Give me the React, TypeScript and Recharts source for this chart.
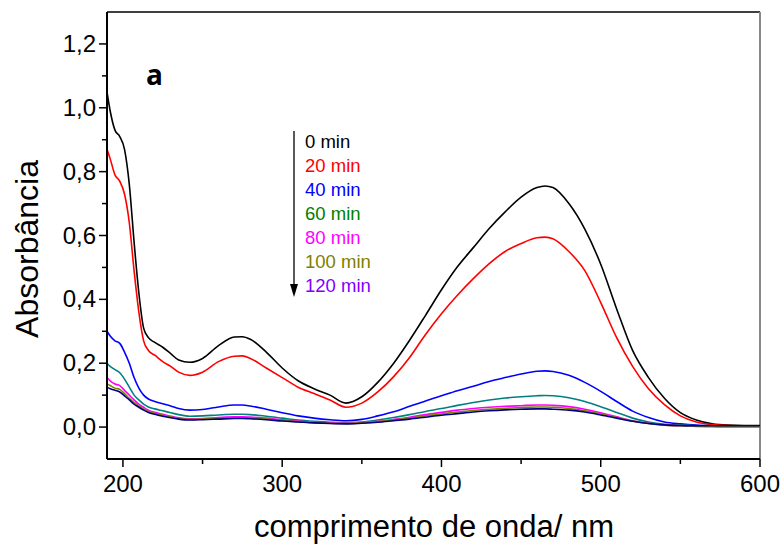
import React from "react"
import { LineChart, Line, XAxis, YAxis, ReferenceLine } from "recharts"

// wavelength (nm)
const wavelengths = [
  190, 192, 195, 198, 201, 204, 207, 210, 213, 216, 220, 225, 230, 235, 242, 250, 260, 270, 275, 280,
  290, 300, 310, 320, 330, 340, 350, 360, 370, 380, 390, 400, 410, 420, 430, 440, 450, 460, 465, 470,
  480, 490, 500, 510, 520, 530, 540, 550, 560, 570, 580, 590, 600,
]

const abs0 = [
  1.05, 0.99, 0.93, 0.91, 0.87, 0.76, 0.58, 0.42, 0.31, 0.28, 0.265, 0.25, 0.23, 0.21, 0.203, 0.215, 0.255, 0.282, 0.283, 0.275,
  0.235, 0.185, 0.145, 0.12, 0.1, 0.075, 0.095, 0.14, 0.2, 0.272, 0.35, 0.43, 0.502, 0.562, 0.622, 0.674, 0.72, 0.75, 0.755, 0.75,
  0.7, 0.62, 0.51, 0.37, 0.24, 0.155, 0.09, 0.045, 0.022, 0.01, 0.006, 0.005, 0.005,
]
const abs20 = [
  0.87, 0.84, 0.79, 0.77, 0.73, 0.64, 0.49, 0.36, 0.27, 0.24, 0.225, 0.205, 0.19, 0.172, 0.162, 0.172, 0.205, 0.222, 0.223, 0.215,
  0.185, 0.155, 0.125, 0.105, 0.085, 0.062, 0.075, 0.11, 0.158, 0.218, 0.29, 0.355, 0.413, 0.465, 0.512, 0.55, 0.575, 0.593, 0.595, 0.59,
  0.55, 0.49, 0.39, 0.28, 0.19, 0.12, 0.07, 0.035, 0.016, 0.008, 0.005, 0.004, 0.004,
]
const abs40 = [
  0.3, 0.285, 0.27, 0.262, 0.235, 0.2, 0.155, 0.122, 0.1, 0.088, 0.08, 0.073, 0.066, 0.058, 0.053, 0.055, 0.063, 0.069, 0.069, 0.066,
  0.056, 0.045, 0.035, 0.028, 0.023, 0.02, 0.024, 0.035, 0.048, 0.065, 0.082, 0.098, 0.114, 0.128, 0.143, 0.155, 0.166, 0.175, 0.176, 0.174,
  0.162, 0.14, 0.112, 0.08, 0.05, 0.03, 0.016, 0.01, 0.006, 0.004, 0.003, 0.003, 0.003,
]
const abs60 = [
  0.2, 0.19, 0.18, 0.17, 0.15, 0.125, 0.1, 0.085, 0.072, 0.063, 0.057, 0.051, 0.045, 0.039, 0.034, 0.035, 0.038, 0.04, 0.04, 0.039,
  0.034, 0.028, 0.022, 0.018, 0.015, 0.014, 0.016, 0.022, 0.03, 0.039, 0.049, 0.058, 0.068, 0.077, 0.085, 0.091, 0.095, 0.098, 0.099, 0.098,
  0.092, 0.08, 0.064, 0.046, 0.028, 0.016, 0.009, 0.006, 0.004, 0.003, 0.003, 0.003, 0.003,
]
const abs80 = [
  0.155, 0.145, 0.135, 0.13, 0.115, 0.1, 0.085, 0.072, 0.062, 0.053, 0.046, 0.04, 0.034, 0.029, 0.026, 0.027, 0.03, 0.032, 0.032, 0.031,
  0.028, 0.023, 0.019, 0.015, 0.013, 0.012, 0.014, 0.018, 0.024, 0.031, 0.039, 0.046, 0.053, 0.058, 0.062, 0.065, 0.067, 0.069, 0.069, 0.068,
  0.064, 0.056, 0.045, 0.032, 0.02, 0.012, 0.007, 0.004, 0.002, 0.001, 0.0, 0.0, 0.0,
]
const abs100 = [
  0.135, 0.13, 0.122, 0.118, 0.105, 0.09, 0.077, 0.066, 0.057, 0.049, 0.043, 0.037, 0.032, 0.027, 0.024, 0.025, 0.027, 0.029, 0.029, 0.028,
  0.025, 0.021, 0.017, 0.014, 0.012, 0.011, 0.013, 0.017, 0.022, 0.028, 0.035, 0.041, 0.047, 0.052, 0.056, 0.059, 0.061, 0.063, 0.063, 0.062,
  0.058, 0.051, 0.041, 0.03, 0.019, 0.011, 0.006, 0.004, 0.003, 0.003, 0.003, 0.003, 0.003,
]
const abs120 = [
  0.125, 0.12, 0.115, 0.11, 0.098, 0.085, 0.072, 0.062, 0.053, 0.046, 0.04, 0.034, 0.029, 0.025, 0.022, 0.023, 0.025, 0.027, 0.027, 0.026,
  0.023, 0.019, 0.016, 0.013, 0.011, 0.01, 0.012, 0.015, 0.02, 0.025, 0.031, 0.037, 0.042, 0.047, 0.051, 0.054, 0.056, 0.057, 0.057, 0.056,
  0.053, 0.047, 0.038, 0.028, 0.018, 0.011, 0.007, 0.005, 0.004, 0.004, 0.004, 0.004, 0.004,
]

const seriesNames = ["0 min", "20 min", "40 min", "60 min", "80 min", "100 min", "120 min"]
const seriesValues = [abs0, abs20, abs40, abs60, abs80, abs100, abs120]
const lineColors = ["#000000", "#ff0000", "#0000ff", "#008080", "#ff00ff", "#808000", "#000080"]
const labelColors = ["#000000", "#ff0000", "#0000ff", "#008000", "#ff00ff", "#808000", "#8000ff"]

const xTicks = [200, 250, 300, 350, 400, 450, 500, 550, 600]
const yTicks = [-0.1, 0, 0.1, 0.2, 0.3, 0.4, 0.5, 0.6, 0.7, 0.8, 0.9, 1.0, 1.1, 1.2, 1.3]

const data = wavelengths.map((w, i) => {
  const row: any = { w }
  seriesNames.forEach((name, s) => {
    row[name] = seriesValues[s][i]
  })
  return row
})

const FONT = "'Liberation Sans', Arial, sans-serif"

const XTick = (props: any) => {
  const { x, y, payload } = props
  const v = payload.value
  const major = v % 100 === 0
  return (
    <g>
      <line x1={x} y1={y} x2={x} y2={y + (major ? 8 : 5)} stroke="#000" strokeWidth={1.5} />
      {major && (
        <text x={x} y={y + 33} textAnchor="middle" fontSize={24} fontFamily={FONT} fill="#000">
          {v}
        </text>
      )}
    </g>
  )
}

const YTick = (props: any) => {
  const { x, y, payload } = props
  const v = Math.round(payload.value * 10)
  const major = v % 2 === 0
  if (v < 0 || v > 12) return null
  return (
    <g>
      <line x1={x} y1={y} x2={x - (major ? 8 : 5)} y2={y} stroke="#000" strokeWidth={1.5} />
      {major && (
        <text x={x - 11} y={y + 8} textAnchor="end" fontSize={24} fontFamily={FONT} fill="#000">
          {(v / 10).toFixed(1).replace(".", ",")}
        </text>
      )}
    </g>
  )
}

export default function App() {
  return (
    <div style={{ position: "absolute", left: 0, top: 0, width: 784, height: 544, background: "#fff" }}>
      <LineChart width={784} height={544} data={data} margin={{ top: 12, right: 24, bottom: 0, left: 0 }}>
        <XAxis
          dataKey="w"
          type="number"
          domain={[190, 600]}
          ticks={xTicks}
          allowDataOverflow
          height={85}
          tickSize={0}
          tickMargin={0}
          tickLine={false}
          tick={<XTick />}
          axisLine={{ stroke: "#000", strokeWidth: 2 }}
        />
        <YAxis
          type="number"
          domain={[-0.1, 1.3]}
          ticks={yTicks}
          allowDataOverflow
          width={107}
          tickSize={0}
          tickMargin={0}
          tickLine={false}
          tick={<YTick />}
          interval={0}
          axisLine={{ stroke: "#000", strokeWidth: 2 }}
        />
        <ReferenceLine y={1.3} stroke="#000" strokeWidth={1.5} />
        <ReferenceLine x={600} stroke="#888" strokeWidth={2} />
        {seriesNames.map((name, s) => (
          <Line
            key={name}
            dataKey={name}
            type="monotone"
            stroke={lineColors[s]}
            strokeWidth={1.6}
            dot={false}
            isAnimationActive={false}
          />
        ))}
      </LineChart>
      <svg width={784} height={544} style={{ position: "absolute", left: 0, top: 0, pointerEvents: "none" }}>
        <text x={146} y={85} fontSize={28} fontWeight={700} fontFamily="'Open Sans', sans-serif" fill="#000">
          a
        </text>
        <line x1={294} y1={131} x2={294} y2={288} stroke="#000" strokeWidth={1.3} />
        <path d="M290,284 L294,297 L298,284 Z" fill="#000" />
        {seriesNames.map((name, s) => (
          <text key={name} x={305} y={148 + s * 24} fontSize={18.5} fontFamily={FONT} fill={labelColors[s]}>
            {name}
          </text>
        ))}
        <text
          x={0}
          y={0}
          transform="translate(38,249) rotate(-90)"
          textAnchor="middle"
          fontSize={32}
          fontFamily={FONT}
          fill="#000"
        >
          Absorbância
        </text>
        <text x={434} y={537} textAnchor="middle" fontSize={31} fontFamily={FONT} fill="#000">
          comprimento de onda/ nm
        </text>
      </svg>
    </div>
  )
}
